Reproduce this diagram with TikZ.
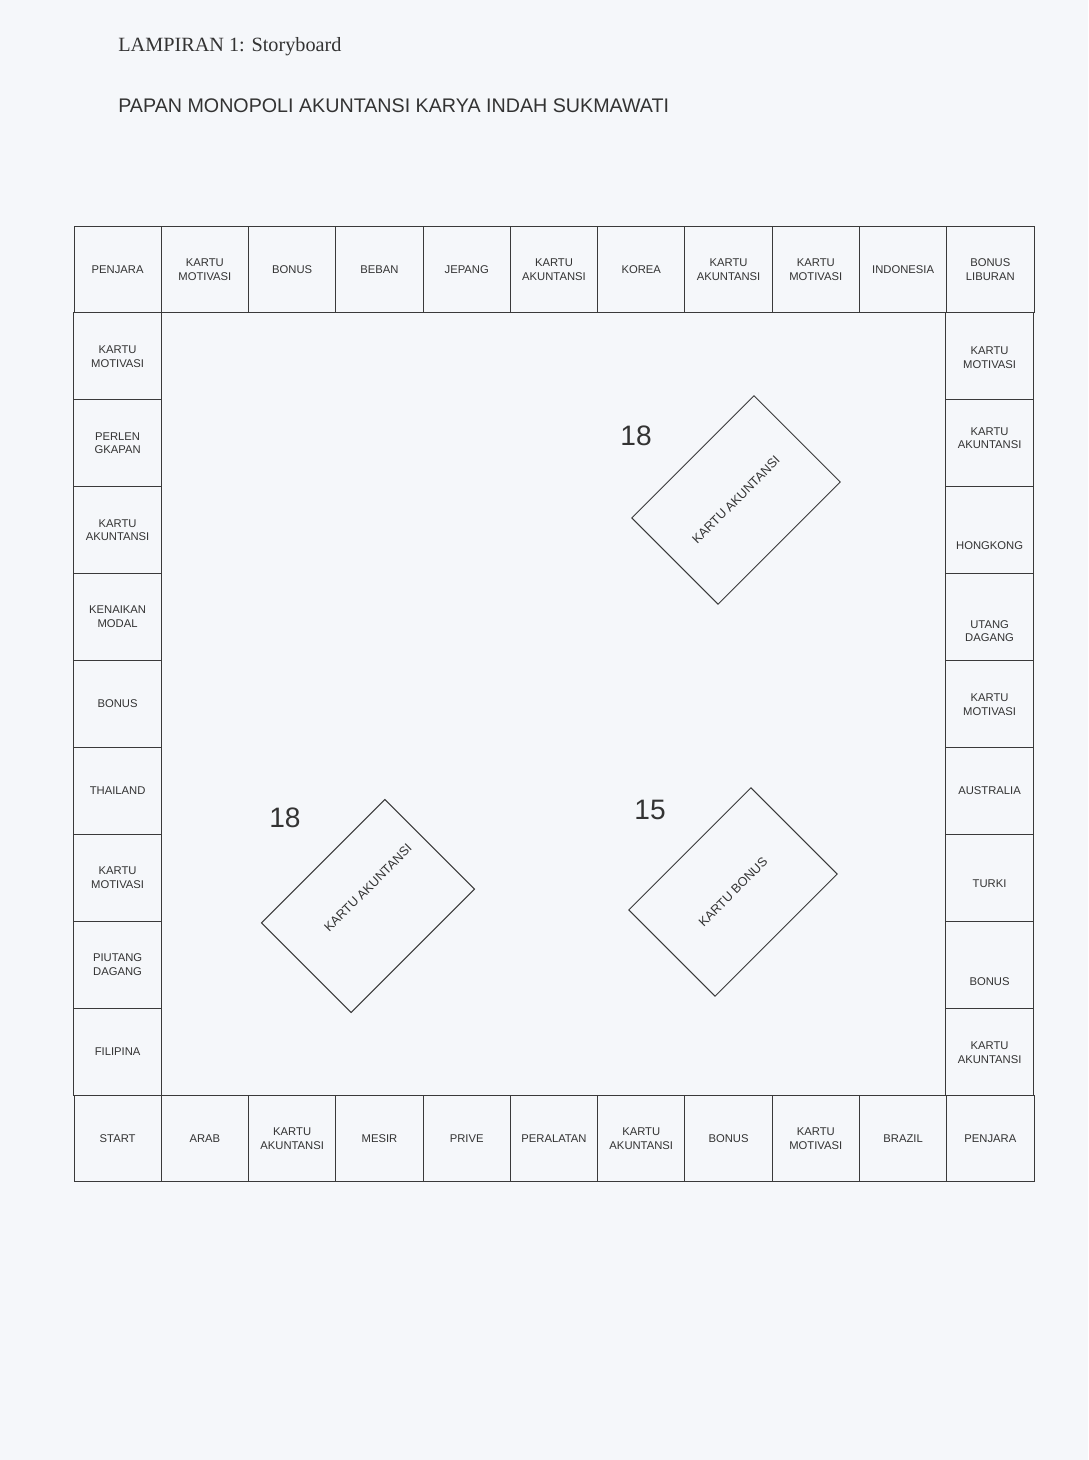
\documentclass[tikz,border=0pt]{standalone}
\usepackage{fontspec}
\setmainfont{Liberation Serif}
\setsansfont{Liberation Sans}
\usetikzlibrary{positioning,calc}
\definecolor{mpink}  {HTML}{333333}
\definecolor{mpline} {HTML}{3A3A3A}
\definecolor{mppaper}{HTML}{F5F7FA}
\tikzset{
  mpcell/.style={draw=mpline, line width=0.7pt, minimum width=21.82mm,
                 minimum height=21.72mm, inner sep=0pt},
  mplabel/.style={font=\sffamily\fontsize{8}{9.8}\selectfont, text=mpink,
                  align=center, inner sep=0pt},
  mpcard/.style={draw=mpline, line width=0.7pt, minimum width=43.2mm,
                 minimum height=30.5mm, inner sep=0pt,
                 font=\sffamily\fontsize{9}{11}\selectfont, text=mpink},
  mpcount/.style={font=\sffamily\fontsize{20}{24}\selectfont, text=mpink, inner sep=0pt},
}
\begin{document}
\begin{tikzpicture}[x=0.25mm,y=-0.25mm]
  \fill[mppaper] (0,0) rectangle (1088,1460);

  \node[anchor=base west, font=\fontsize{14.4}{17}\selectfont, text=mpink, inner sep=0pt]
    (lampiran) at (118,52) {LAMPIRAN 1: Storyboard};
  \node[anchor=base west, font=\sffamily\fontsize{14}{17}\selectfont, text=mpink, inner sep=0pt]
    (title) at (118,113) {PAPAN MONOPOLI AKUNTANSI KARYA INDAH SUKMAWATI};

  % top row, left to right
  \foreach \lbl [count=\i from 0] in {PENJARA, {KARTU\\MOTIVASI}, BONUS, BEBAN, JEPANG,
      {KARTU\\AKUNTANSI}, KOREA, {KARTU\\AKUNTANSI}, {KARTU\\MOTIVASI}, INDONESIA,
      {BONUS\\LIBURAN}} {
    \node[mpcell] (top\i) at ({74+(\i+0.5)*87.27},269.5) {};
    \node[mplabel] (top\i text) at (top\i.center) {\lbl};
  }

  % bottom row, left to right
  \foreach \lbl [count=\i from 0] in {START, ARAB, {KARTU\\AKUNTANSI}, MESIR, PRIVE,
      PERALATAN, {KARTU\\AKUNTANSI}, BONUS, {KARTU\\MOTIVASI}, BRAZIL, PENJARA} {
    \node[mpcell] (bot\i) at ({74+(\i+0.5)*87.27},1138.5) {};
    \node[mplabel] (bot\i text) at (bot\i.center) {\lbl};
  }

  % left column, top to bottom
  \foreach \lbl [count=\i] in {{KARTU\\MOTIVASI}, {PERLEN\\GKAPAN}, {KARTU\\AKUNTANSI},
      {KENAIKAN\\MODAL}, BONUS, THAILAND, {KARTU\\MOTIVASI}, {PIUTANG\\DAGANG}, FILIPINA} {
    \node[mpcell] (left\i) at (117.6,{226+(\i+0.5)*86.9}) {};
    \node[mplabel] (left\i text) at (left\i.center) {\lbl};
  }

  % right column, top to bottom (labels sit a little off centre)
  \foreach \lbl/\dy [count=\i] in {{KARTU\\MOTIVASI}/1, {KARTU\\AKUNTANSI}/-5,
      HONGKONG/15, {UTANG\\DAGANG}/14, {KARTU\\MOTIVASI}/1, AUSTRALIA/0, TURKI/6,
      BONUS/17, {KARTU\\AKUNTANSI}/1} {
    \node[mpcell] (right\i) at (989.6,{226+(\i+0.5)*86.9}) {};
    \node[mplabel] (right\i text) at ($(right\i.center)+(0,\dy)$) {\lbl};
  }

  % card piles in the middle
  \node[mpcount] (countA) at (636,436) {18};
  \node[mpcard, rotate=45] (cardA) at (736,500) {KARTU AKUNTANSI};

  \node[mpcount] (countB) at (285,818) {18};
  \node[mpcard, rotate=45, minimum width=43.6mm, minimum height=31.7mm] (cardB) at (368,906) {};
  \node[mplabel, font=\sffamily\fontsize{9}{11}\selectfont, rotate=45] (cardBtext) at (368,888)
    {KARTU AKUNTANSI};

  \node[mpcount] (countC) at (650,810) {15};
  \node[mpcard, rotate=45] (cardC) at (733,892) {KARTU BONUS};
\end{tikzpicture}
\end{document}
